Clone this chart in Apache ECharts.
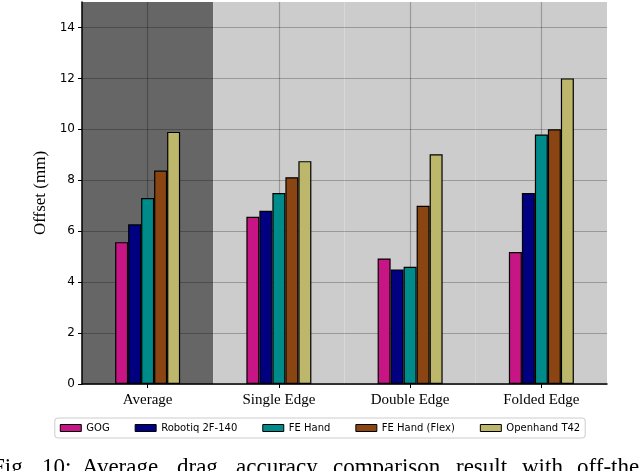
<!DOCTYPE html>
<html><head><meta charset="utf-8">
<script src="https://cdn.jsdelivr.net/npm/echarts/dist/echarts.min.js"></script>
<style>html,body{margin:0;padding:0;background:#fff;overflow:hidden}#c{width:640px;height:471px}</style>
</head><body><div id="c"></div>
<script>
const categories = ['Average', 'Single Edge', 'Double Edge', 'Folded Edge'];
const seriesNames = ['GOG', 'Robotiq 2F-140', 'FE Hand', 'FE Hand (Flex)', 'Openhand T42'];
const gog = [5.57, 6.57, 4.93, 5.18];
const robotiq = [6.27, 6.8, 4.5, 7.5];
const feHand = [7.3, 7.5, 4.6, 9.8];
const feFlex = [8.38, 8.12, 7.0, 10.0];
const openhand = [9.9, 8.75, 9.02, 12.0];
const seriesValues = [gog, robotiq, feHand, feFlex, openhand];
const seriesColors = ['#c71585', '#000080', '#008b8b', '#8b4513', '#bdb76b'];
const yMax = 15;
const yTicks = [0, 2, 4, 6, 8, 10, 12, 14];
const bgValues = [15, 15, 15, 15];
const bgColors = ['#666666', '#cccccc', '#cccccc', '#cccccc'];
const captionWords = ['Fig.', '10:', 'Average', 'drag', 'accuracy', 'comparison', 'result', 'with', 'off-the-shelf'];
const captionX = [-8, 42, 82, 177, 236, 333, 456, 522, 577];

const chart = echarts.init(document.getElementById('c'), null, {renderer: 'canvas'});
const gridLine = 'rgba(0,0,0,0.25)';
const series = [{
  type: 'bar', xAxisIndex: 1, yAxisIndex: 0, z: 0, silent: true,
  barWidth: '100%',
  data: bgValues.map((v, i) => ({value: v, itemStyle: {color: bgColors[i]}})),
  legendHoverLink: false
}];
seriesNames.forEach((n, i) => {
  series.push({
    name: n, type: 'bar', xAxisIndex: 0, yAxisIndex: 0, z: 3,
    barWidth: 13, barGap: '0%',
    itemStyle: {color: seriesColors[i], borderColor: '#000', borderWidth: 1.2},
    data: seriesValues[i]
  });
});
const splitColors = yTicks.map(() => gridLine).concat(['rgba(0,0,0,0)']);
chart.setOption({
  animation: false,
  backgroundColor: '#fff',
  grid: {left: 82, right: 33, top: 2, bottom: 87},
  legend: {
    data: seriesNames, top: 418, left: 'center',
    icon: 'rect', itemWidth: 21, itemHeight: 7, itemGap: 25,
    itemStyle: {borderColor: '#000', borderWidth: 1},
    textStyle: {fontFamily: 'DejaVu Sans', fontSize: 10, color: '#000'},
    backgroundColor: '#fff', borderColor: '#cccccc', borderWidth: 1, borderRadius: 3,
    padding: [5, 5]
  },
  xAxis: [{
    type: 'category', data: categories, z: 2,
    axisLine: {lineStyle: {color: '#000', width: 1.5}},
    axisTick: {show: true, alignWithLabel: true, length: 4, lineStyle: {color: '#000'}},
    axisLabel: {fontFamily: 'Liberation Serif', fontSize: 15, color: '#000', margin: 9},
    splitLine: {show: false}
  }, {
    type: 'category', data: categories, show: false
  }, {
    type: 'value', min: 0, max: 8, interval: 1, show: true, z: 1,
    axisLine: {show: false}, axisTick: {show: false}, axisLabel: {show: false},
    splitLine: {show: true, lineStyle: {color: ['rgba(0,0,0,0)', gridLine], width: 1.2}}
  }],
  yAxis: {
    type: 'value', min: 0, max: yMax, interval: 2, z: 1,
    name: 'Offset (mm)', nameLocation: 'middle', nameGap: 30,
    nameTextStyle: {fontFamily: 'Liberation Serif', fontSize: 17, color: '#000'},
    axisLine: {show: true, lineStyle: {color: '#000', width: 1.5}},
    axisTick: {show: true, length: 4, customValues: yTicks, lineStyle: {color: '#000'}},
    axisLabel: {fontFamily: 'DejaVu Sans', fontSize: 12, color: '#000', margin: 7, customValues: yTicks},
    splitLine: {show: true, lineStyle: {color: splitColors, width: 1.2}}
  },
  graphic: captionWords.map((w, i) => ({
    type: 'text', left: captionX[i], top: 456,
    style: {text: w, font: '23px "Liberation Serif"', fill: '#000'}
  })),
  series: series
});
</script></body></html>
